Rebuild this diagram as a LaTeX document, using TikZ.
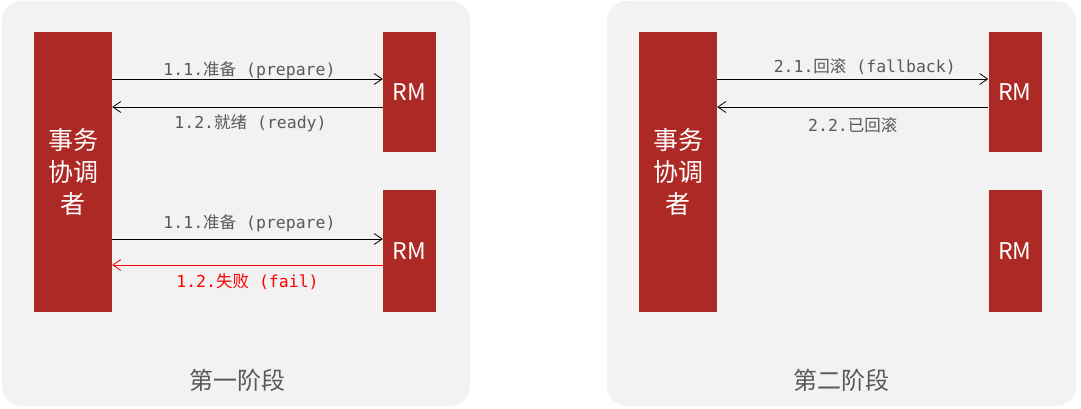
\documentclass[tikz,border=0pt]{standalone}
\usepackage{fontspec}
\setmonofont{DejaVu Sans Mono}
\newfontfamily\cjk{Noto Sans CJK SC}
\usepackage{tikz}
\usetikzlibrary{arrows.meta, positioning}
\definecolor{barred}{RGB}{173,41,38}
\definecolor{panelgray}{RGB}{242,242,242}
\definecolor{labelgray}{RGB}{89,89,89}
\tikzset{
  panel/.style = {fill=panelgray, rounded corners=20pt},
  tcbar/.style = {fill=barred, text=white, inner sep=0pt, align=center,
    minimum width=78pt, minimum height=280pt,
    font=\cjk\fontsize{25}{32}\selectfont},
  rmbox/.style = {fill=barred, text=white, inner sep=0pt,
    minimum width=53pt, font=\cjk\fontsize{23}{26}\selectfont},
  msg/.style = {-{Straight Barb[length=8pt,width=11pt]}, line width=0.8pt},
  lbl/.style = {font=\ttfamily\fontsize{16.5}{20}\selectfont, text=labelgray,
    inner sep=0pt, text height=12pt, text depth=3pt},
  stage/.style = {font=\cjk\fontsize{24}{30}\selectfont, text=labelgray}
}

\begin{document}
\begin{tikzpicture}[x=1pt, y=-1pt]
\useasboundingbox (0,0) rectangle (1081,409);
% panels
\fill[panel] (2,1) rectangle (470,406);
\fill[panel] (607,1) rectangle (1076,406);

% stage one
\node [tcbar] (tc1) at (73,172) {事务\\协调\\者};
\node [rmbox, minimum height=120pt] (rm11) at (409.5,92) {RM};
\node [rmbox, minimum height=122pt] (rm12) at (409.5,251) {RM};
\coordinate (p11) at ([yshift=13pt]rm11.west);
\coordinate (p12) at ([yshift=-15pt]rm11.west);
\coordinate (p13) at ([yshift=12pt]rm12.west);
\coordinate (p14) at ([yshift=-14pt]rm12.west);
\draw[msg] (p11 -| tc1.east) -- node[lbl, above=0pt, xshift=2pt] {1.1.{\cjk 准备} (prepare)} (p11);
\draw[msg] (p12) -- node[lbl, below=9pt, xshift=3pt] {1.2.{\cjk 就绪} (ready)} (p12 -| tc1.east);
\draw[msg] (p13 -| tc1.east) -- node[lbl, above=7pt, xshift=2pt] {1.1.{\cjk 准备} (prepare)} (p13);
\draw[msg, red] (p14) -- node[lbl, below=10pt, text=red] {1.2.{\cjk 失败} (fail)} (p14 -| tc1.east);
\node [stage] (st1) at (237,380) {第一阶段};

% stage two
\node [tcbar] (tc2) at (678,172) {事务\\协调\\者};
\node [rmbox, minimum height=120pt] (rm21) at (1015,92) {RM};
\node [rmbox, minimum height=122pt] (rm22) at (1015,251) {RM};
\coordinate (p21) at ([yshift=13pt]rm21.west);
\coordinate (p22) at ([yshift=-15pt]rm21.west);
\draw[msg] (p21 -| tc2.east) -- node[lbl, above=3pt, xshift=12pt] {2.1.{\cjk 回滚} (fallback)} (p21);
\draw[msg] (p22) -- node[lbl, below=12pt] {2.2.{\cjk 已回滚}} (p22 -| tc2.east);
\node [stage] (st2) at (841,380) {第二阶段};
\end{tikzpicture}
\end{document}
